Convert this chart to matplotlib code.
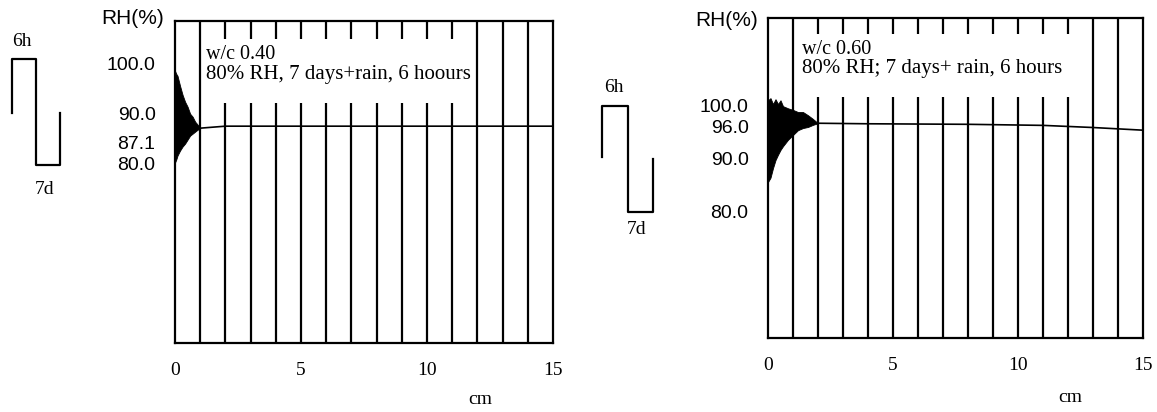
import matplotlib.pyplot as plt
from matplotlib.lines import Line2D
from matplotlib.patches import Rectangle
from matplotlib.transforms import ScaledTranslation

# ---- data ----
grid_cm = list(range(1, 15))
xticks = [0, 5, 10, 15]

# w/c 0.40 panel
env40_x = [0.0, 0.05, 0.1, 0.2, 0.3, 0.4, 0.5, 0.6, 0.7, 0.8, 0.9, 1.0]
env40_hi = [98.6, 98.0, 97.6, 95.6, 93.8, 92.4, 91.4, 90.0, 89.4, 88.4, 87.8, 87.2]
env40_lo = [80.2, 80.8, 81.6, 82.6, 83.4, 84.0, 84.8, 85.6, 86.0, 86.4, 86.8, 87.0]
prof40_x = [1, 2, 4, 8, 12, 15]
prof40_rh = [87.1, 87.5, 87.5, 87.5, 87.5, 87.5]
yt40 = [100.0, 90.0, 87.1, 80.0]

# w/c 0.60 panel
env60_x = [0.0, 0.1, 0.2, 0.3, 0.4, 0.5, 0.6, 0.8, 1.0, 1.2, 1.4, 1.6, 1.8, 2.0]
env60_hi = [100.9, 101.3, 100.2, 101.1, 100.2, 100.9, 99.8, 99.4, 99.1, 98.7, 98.7, 98.1, 97.4, 96.6]
env60_lo = [85.6, 86.4, 88.2, 89.7, 90.7, 91.6, 92.3, 93.5, 94.4, 95.3, 95.7, 95.9, 96.3, 96.6]
prof60_x = [2, 4, 8, 11, 13, 15]
prof60_rh = [96.6, 96.5, 96.4, 96.2, 95.8, 95.3]
yt60 = [100.0, 96.0, 90.0, 80.0]

W, H = 1157, 412
fig = plt.figure(figsize=(W / 100, H / 100), dpi=100)
fig.patch.set_facecolor('white')

SERIF = 'Liberation Serif'
SANS = 'Liberation Sans'


def fx(px):
    return px / W


def fy(py):
    return 1 - py / H


def panel(rect, ylim, env_x, env_hi, env_lo, px, prh, yt, box, txt1, txt2, shift_lbl=None):
    ax = fig.add_axes(rect)
    ax.set_xlim(0, 15)
    ax.set_ylim(*ylim)
    for s in ax.spines.values():
        s.set_linewidth(1.6)
    ax.vlines(grid_cm, ylim[0], ylim[1], color='black', lw=1.6, zorder=2)
    ax.fill_between(env_x, env_lo, env_hi, color='black', lw=0.6, zorder=3)
    ax.plot(px, prh, color='black', lw=1.2, zorder=3)
    # white label box breaks the grid lines
    ax.add_patch(Rectangle((box[0], box[2]), box[1] - box[0], box[3] - box[2],
                           facecolor='white', edgecolor='none', zorder=4))
    ax.text(box[0] + 0.05, box[3] - (box[3] - box[2]) * 0.25, txt1, fontsize=14.5,
            family=SERIF, va='center', ha='left', zorder=5)
    ax.text(box[0] + 0.05, box[3] - (box[3] - box[2]) * 0.55, txt2, fontsize=15,
            family=SERIF, va='center', ha='left', zorder=5)
    ax.set_xticks(xticks)
    ax.set_xticklabels([str(v) for v in xticks], family=SERIF, fontsize=14)
    ax.set_yticks(yt)
    ax.set_yticklabels(['%.1f' % v for v in yt], family=SANS, fontsize=14)
    ax.tick_params(axis='both', length=0)
    ax.tick_params(axis='x', pad=14)
    ax.tick_params(axis='y', pad=14)
    if shift_lbl is not None:
        lbl = ax.get_yticklabels()[shift_lbl]
        lbl.set_transform(lbl.get_transform() + ScaledTranslation(0, -10 / 72, fig.dpi_scale_trans))
    return ax


panel([fx(175), fy(343), 378 / W, (343 - 21) / H], (44.0, 108.6),
      env40_x, env40_hi, env40_lo, prof40_x, prof40_rh, yt40,
      (1.2, 11.9, 92.2, 105.0), 'w/c 0.40', '80% RH, 7 days+rain, 6 hoours', shift_lbl=2)

panel([fx(768), fy(338), 375 / W, (338 - 18) / H], (56.4, 116.3),
      env60_x, env60_hi, env60_lo, prof60_x, prof60_rh, yt60,
      (1.3, 12.6, 101.5, 113.3), 'w/c 0.60', '80% RH; 7 days+ rain, 6 hours')

# axis titles
fig.text(fx(133), fy(18), 'RH(%)', family=SANS, fontsize=15, ha='center', va='center')
fig.text(fx(727), fy(20), 'RH(%)', family=SANS, fontsize=15, ha='center', va='center')
fig.text(fx(480), fy(400), 'cm', family=SERIF, fontsize=14, ha='center', va='center')
fig.text(fx(1070), fy(398), 'cm', family=SERIF, fontsize=14, ha='center', va='center')

# wetting / drying cycle sketches
waves = [
    ([12, 12, 36, 36, 60, 60], [113, 59, 59, 165, 165, 113], (22, 42), (45, 189)),
    ([602, 602, 628, 628, 653, 653], [157, 106, 106, 212, 212, 159], (614, 87), (637, 230)),
]
for xs, ys, p6, p7 in waves:
    fig.add_artist(Line2D([fx(v) for v in xs], [fy(v) for v in ys], color='black', lw=1.6))
    fig.text(fx(p6[0]), fy(p6[1]), '6h', family=SERIF, fontsize=14, ha='center', va='center')
    fig.text(fx(p7[0]), fy(p7[1]), '7d', family=SERIF, fontsize=14, ha='center', va='center')

fig.savefig('out.png', dpi=100, facecolor='white')
